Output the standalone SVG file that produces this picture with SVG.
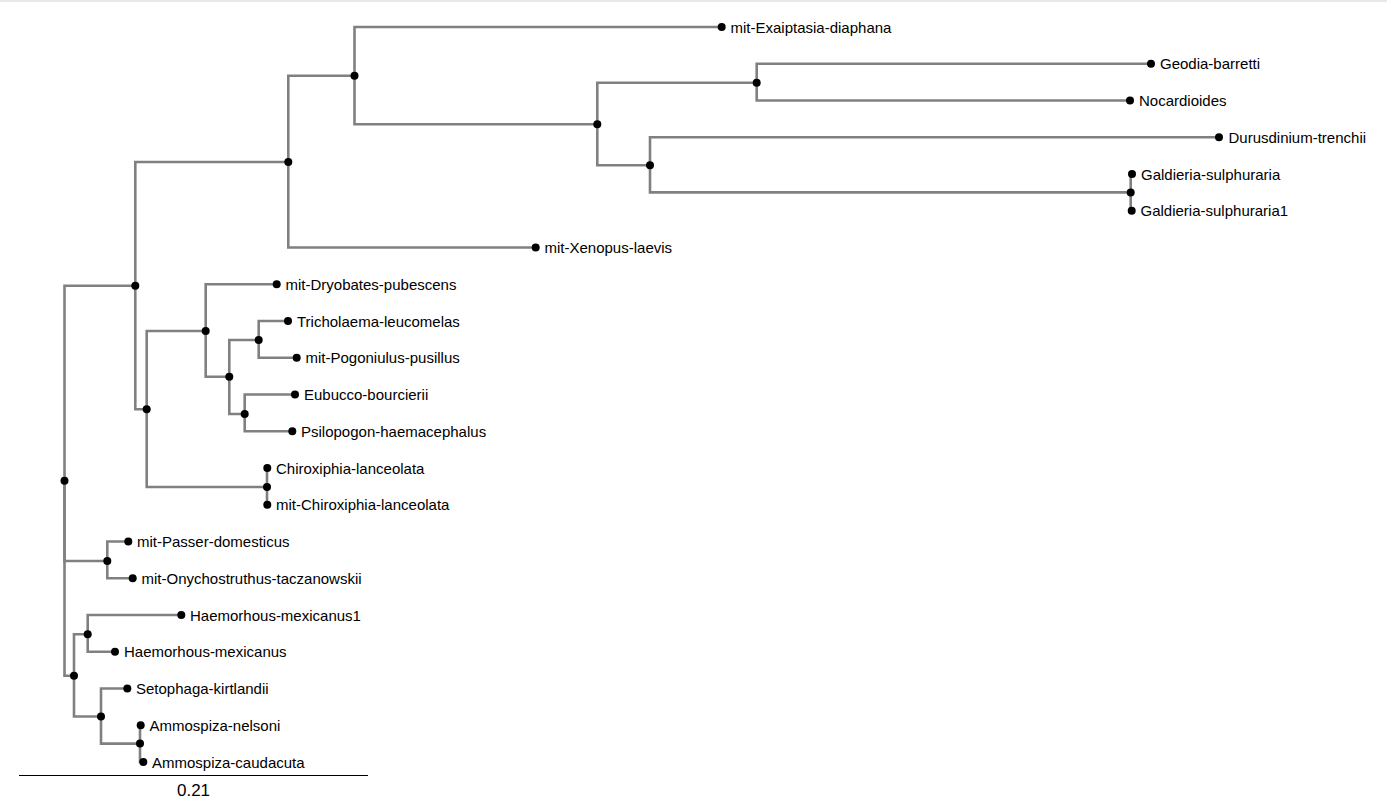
<svg xmlns="http://www.w3.org/2000/svg" width="1387" height="800" viewBox="0 0 1387 800">
<style>
.br{fill:none;stroke:#808080;stroke-width:2.6}
.nd{fill:#000}
.lb{font-family:"Liberation Sans",Arial,sans-serif;font-size:15px;fill:#000}
.sc{font-family:"Liberation Sans",Arial,sans-serif;font-size:17px;fill:#000;text-anchor:middle}
</style>
<rect x="0" y="0" width="1387" height="800" fill="#fff"/>
<line x1="0" y1="1" x2="1387" y2="1" stroke="#e8e8e8" stroke-width="2"/>
<g id="connectors">
<path class="br" d="M64.5 480.7V285.7H135.3"/>
<path class="br" d="M64.5 480.7V561H107.3"/>
<path class="br" d="M64.5 480.7V675.8H74"/>
<path class="br" d="M135.3 285.7V162H288.3"/>
<path class="br" d="M135.3 285.7V409.3H146.7"/>
<path class="br" d="M288.3 162V75.7H354.5"/>
<path class="br" d="M288.3 162V247.5H535.7"/>
<path class="br" d="M354.5 75.7V27H721.7"/>
<path class="br" d="M354.5 75.7V124.3H597.3"/>
<path class="br" d="M597.3 124.3V82.7H756.7"/>
<path class="br" d="M597.3 124.3V165.3H650"/>
<path class="br" d="M756.7 82.7V63.75H1151"/>
<path class="br" d="M756.7 82.7V100.5H1130"/>
<path class="br" d="M650 165.3V137.25H1219"/>
<path class="br" d="M650 165.3V192.4H1130.7"/>
<path class="br" d="M1130.7 192.4V174H1132"/>
<path class="br" d="M1130.7 192.4V210.75H1131.7"/>
<path class="br" d="M146.7 409.3V331H205.7"/>
<path class="br" d="M146.7 409.3V487H267"/>
<path class="br" d="M205.7 331V284.25H276.7"/>
<path class="br" d="M205.7 331V376.7H229.3"/>
<path class="br" d="M229.3 376.7V340H258.7"/>
<path class="br" d="M229.3 376.7V414H244.7"/>
<path class="br" d="M258.7 340V321H288"/>
<path class="br" d="M258.7 340V357.75H296.7"/>
<path class="br" d="M244.7 414V394.5H295"/>
<path class="br" d="M244.7 414V431.25H292.3"/>
<path class="br" d="M267 487V468H267.3"/>
<path class="br" d="M267 487V504.75H267.3"/>
<path class="br" d="M107.3 561V541.5H128.3"/>
<path class="br" d="M107.3 561V578.25H132.7"/>
<path class="br" d="M74 675.8V634.3H87.7"/>
<path class="br" d="M74 675.8V716.5H101"/>
<path class="br" d="M87.7 634.3V615H181.3"/>
<path class="br" d="M87.7 634.3V651.75H115"/>
<path class="br" d="M101 716.5V688.5H127.3"/>
<path class="br" d="M101 716.5V743.6H140"/>
<path class="br" d="M140 743.6V725.25H140.7"/>
<path class="br" d="M140 743.6V762H143.3"/>
</g>
<g id="n-root"><circle class="nd" cx="64.5" cy="480.7" r="4"/></g>
<g id="n-A"><circle class="nd" cx="135.3" cy="285.7" r="4"/></g>
<g id="n-P"><circle class="nd" cx="107.3" cy="561" r="4"/></g>
<g id="n-H"><circle class="nd" cx="74" cy="675.8" r="4"/></g>
<g id="n-B"><circle class="nd" cx="288.3" cy="162" r="4"/></g>
<g id="n-C"><circle class="nd" cx="146.7" cy="409.3" r="4"/></g>
<g id="n-D"><circle class="nd" cx="354.5" cy="75.7" r="4"/></g>
<g id="n-E"><circle class="nd" cx="597.3" cy="124.3" r="4"/></g>
<g id="n-F"><circle class="nd" cx="756.7" cy="82.7" r="4"/></g>
<g id="n-G"><circle class="nd" cx="650" cy="165.3" r="4"/></g>
<g id="n-Gal"><circle class="nd" cx="1130.7" cy="192.4" r="4"/></g>
<g id="n-I"><circle class="nd" cx="205.7" cy="331" r="4"/></g>
<g id="n-J"><circle class="nd" cx="267" cy="487" r="4"/></g>
<g id="n-K"><circle class="nd" cx="229.3" cy="376.7" r="4"/></g>
<g id="n-L"><circle class="nd" cx="258.7" cy="340" r="4"/></g>
<g id="n-M"><circle class="nd" cx="244.7" cy="414" r="4"/></g>
<g id="n-Q"><circle class="nd" cx="87.7" cy="634.3" r="4"/></g>
<g id="n-R"><circle class="nd" cx="101" cy="716.5" r="4"/></g>
<g id="n-S"><circle class="nd" cx="140" cy="743.6" r="4"/></g>
<g id="leaf-Exaiptasia"><circle class="nd" cx="721.7" cy="27" r="4"/><text class="lb" x="730.5" y="32.5">mit-Exaiptasia-diaphana</text></g>
<g id="leaf-Geodia"><circle class="nd" cx="1151" cy="63.75" r="4"/><text class="lb" x="1160" y="69.25">Geodia-barretti</text></g>
<g id="leaf-Nocardioides"><circle class="nd" cx="1130" cy="100.5" r="4"/><text class="lb" x="1139" y="106">Nocardioides</text></g>
<g id="leaf-Durusdinium"><circle class="nd" cx="1219" cy="137.25" r="4"/><text class="lb" x="1228.5" y="142.75">Durusdinium-trenchii</text></g>
<g id="leaf-Galdieria"><circle class="nd" cx="1132" cy="174" r="4"/><text class="lb" x="1141" y="179.5">Galdieria-sulphuraria</text></g>
<g id="leaf-Galdieria1"><circle class="nd" cx="1131.7" cy="210.75" r="4"/><text class="lb" x="1140.5" y="216.25">Galdieria-sulphuraria1</text></g>
<g id="leaf-Xenopus"><circle class="nd" cx="535.7" cy="247.5" r="4"/><text class="lb" x="544.5" y="253">mit-Xenopus-laevis</text></g>
<g id="leaf-Dryobates"><circle class="nd" cx="276.7" cy="284.25" r="4"/><text class="lb" x="285.5" y="289.75">mit-Dryobates-pubescens</text></g>
<g id="leaf-Tricholaema"><circle class="nd" cx="288" cy="321" r="4"/><text class="lb" x="297" y="326.5">Tricholaema-leucomelas</text></g>
<g id="leaf-Pogoniulus"><circle class="nd" cx="296.7" cy="357.75" r="4"/><text class="lb" x="305.5" y="363.25">mit-Pogoniulus-pusillus</text></g>
<g id="leaf-Eubucco"><circle class="nd" cx="295" cy="394.5" r="4"/><text class="lb" x="304" y="400">Eubucco-bourcierii</text></g>
<g id="leaf-Psilopogon"><circle class="nd" cx="292.3" cy="431.25" r="4"/><text class="lb" x="301" y="436.75">Psilopogon-haemacephalus</text></g>
<g id="leaf-Chiroxiphia"><circle class="nd" cx="267.3" cy="468" r="4"/><text class="lb" x="276" y="473.5">Chiroxiphia-lanceolata</text></g>
<g id="leaf-mitChiroxiphia"><circle class="nd" cx="267.3" cy="504.75" r="4"/><text class="lb" x="276" y="510.25">mit-Chiroxiphia-lanceolata</text></g>
<g id="leaf-Passer"><circle class="nd" cx="128.3" cy="541.5" r="4"/><text class="lb" x="137" y="547">mit-Passer-domesticus</text></g>
<g id="leaf-Onychostruthus"><circle class="nd" cx="132.7" cy="578.25" r="4"/><text class="lb" x="141.5" y="583.75">mit-Onychostruthus-taczanowskii</text></g>
<g id="leaf-Haemorhous1"><circle class="nd" cx="181.3" cy="615" r="4"/><text class="lb" x="190" y="620.5">Haemorhous-mexicanus1</text></g>
<g id="leaf-Haemorhous"><circle class="nd" cx="115" cy="651.75" r="4"/><text class="lb" x="124" y="657.25">Haemorhous-mexicanus</text></g>
<g id="leaf-Setophaga"><circle class="nd" cx="127.3" cy="688.5" r="4"/><text class="lb" x="136" y="694">Setophaga-kirtlandii</text></g>
<g id="leaf-nelsoni"><circle class="nd" cx="140.7" cy="725.25" r="4"/><text class="lb" x="149.5" y="730.75">Ammospiza-nelsoni</text></g>
<g id="leaf-caudacuta"><circle class="nd" cx="143.3" cy="762" r="4"/><text class="lb" x="152" y="767.5">Ammospiza-caudacuta</text></g>
<g id="scale">
<line x1="19" y1="775.5" x2="368" y2="775.5" stroke="#000" stroke-width="1"/>
<text class="sc" x="193.5" y="796">0.21</text>
</g>
</svg>
